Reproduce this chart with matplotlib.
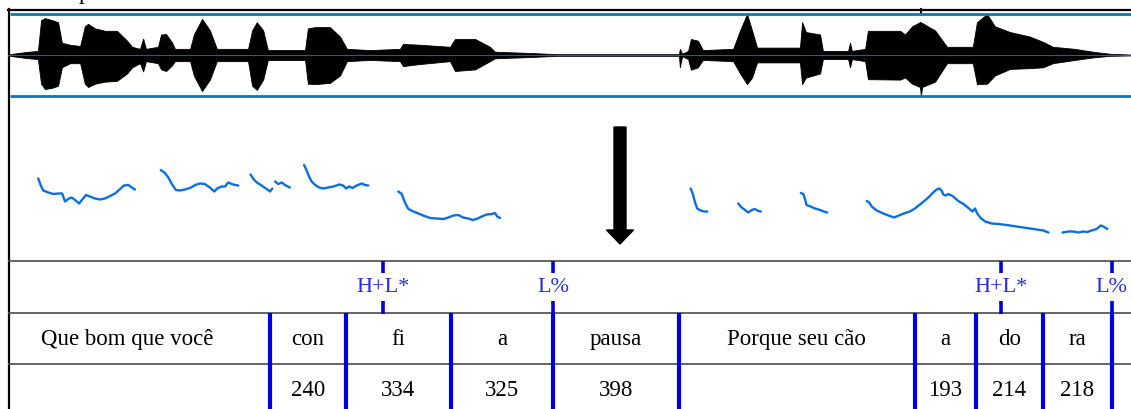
import numpy as np
import matplotlib.pyplot as plt
import matplotlib.patches as mpatches

plt.rcParams['font.family'] = ['Liberation Serif', 'DejaVu Serif']

# waveform amplitude envelope: time (ms), upper and lower peak (full scale = 1)
wave_ms = [6, 54, 95, 105, 117, 140, 159, 171, 197, 229, 244, 254, 276, 308, 346, 378, 394,
           419, 429, 438, 476, 486, 502, 521, 530, 578, 590, 616, 641, 663, 762, 775, 790,
           810, 825, 943, 952, 975, 1022, 1054, 1076, 1149, 1244, 1254, 1308, 1403, 1419,
           1483, 1530, 1546, 1657, 1743, 2130, 2133, 2140, 2159, 2168, 2190, 2206, 2302,
           2324, 2346, 2362, 2378, 2514, 2521, 2533, 2578, 2587, 2667, 2673, 2679, 2721,
           2730, 2832, 2848, 2870, 2895, 2898, 2902, 2943, 2981, 3063, 3076, 3108, 3133,
           3181, 3244, 3286, 3317, 3387, 3444, 3498, 3565]
wave_hi = [.02, .07, .10, .85, .90, .85, .80, .30, .25, .22, .70, .76, .65, .59, .59, .35, .20,
           .15, .40, .15, .20, .50, .51, .30, .15, .15, .50, .88, .60, .15, .15, .60, .80,
           .60, .12, .12, .65, .68, .68, .45, .15, .12, .15, .27, .25, .20, .39,
           .39, .20, .08, .05, .02, .02, .15, .03, .10, .39, .35, .12, .15,
           .60, 1.0, .60, .18, .18, .80, .56, .50, .10, .10, .30, .10, .15,
           .59, .59, .50, .70, .80, .80, .78, .60, .20, .20, .80, 1.0, .70,
           .56, .45, .32, .20, .15, .08, .03, .01]
wave_lo = [.02, .07, .10, .70, .83, .80, .75, .30, .20, .20, .70, .78, .70, .65, .63, .45, .30,
           .20, .40, .15, .20, .35, .39, .25, .15, .15, .50, .88, .60, .15, .15, .75, .85,
           .60, .12, .12, .70, .71, .68, .50, .15, .12, .15, .27, .22, .15, .39,
           .35, .15, .08, .05, .02, .02, .30, .03, .10, .36, .30, .12, .15,
           .45, .71, .55, .18, .18, .71, .55, .45, .10, .10, .30, .10, .15,
           .59, .60, .55, .70, .78, 1.0, .78, .65, .20, .20, .71, .70, .50,
           .34, .32, .30, .20, .12, .06, .02, .01]

# F0 contour, one list per voiced stretch: time (ms) and pitch (Hz)
f0_ms = [
    [96, 104, 112, 128, 144, 160, 172, 181, 191, 202, 213, 226, 237, 248, 260, 276, 292,
     308, 324, 340, 356, 368, 382, 393, 403],
    [485, 498, 509, 520, 533, 546, 562, 578, 594, 610, 625, 641, 655, 664, 678, 689, 699,
     710, 721, 731],
    [770, 779, 790, 805, 821, 832, 839],
    [848, 858, 869, 879, 895],
    [940, 948, 957, 964, 975, 988, 1001, 1017, 1033, 1052, 1064, 1073, 1083, 1094, 1107,
     1123, 1133, 1144],
    [1239, 1250, 1260, 1271, 1287, 1303, 1318, 1340, 1361, 1382, 1398, 1414, 1430, 1445,
     1461, 1475, 1488, 1504, 1520, 1536, 1546, 1553, 1562],
    [2167, 2174, 2181, 2188, 2199, 2210, 2220],
    [2318, 2329, 2340, 2350, 2361, 2371, 2379, 2390],
    [2517, 2525, 2530, 2535, 2548, 2562, 2578, 2590, 2601],
    [2726, 2734, 2742, 2758, 2779, 2795, 2813, 2832, 2848, 2863, 2879, 2895, 2911, 2925,
     2937, 2948, 2957, 2964, 2969, 2977, 2985, 2996, 3006, 3017, 3033, 3049, 3062, 3070,
     3077, 3088, 3102, 3123, 3144, 3170, 3202, 3234, 3266, 3287, 3303],
    [3348, 3366, 3382, 3398, 3414, 3426, 3440, 3456, 3469, 3477, 3490],
]
f0_hz = [
    [265, 251, 241, 237, 234, 235, 235, 219, 224, 227, 222, 215, 224, 232, 229, 225, 223,
     225, 230, 235, 244, 251, 252, 247, 243],
    [282, 276, 267, 254, 242, 241, 243, 246, 252, 255, 254, 247, 239, 245, 249, 249, 257,
     254, 252, 251],
    [273, 264, 257, 251, 244, 239, 245],
    [259, 254, 257, 252, 247],
    [292, 281, 267, 259, 252, 247, 245, 247, 249, 253, 251, 245, 249, 246, 251, 255, 252, 251],
    [239, 234, 217, 204, 199, 195, 191, 186, 185, 184, 187, 191, 192, 187, 185, 182, 184,
     189, 193, 194, 196, 189, 186],
    [245, 234, 217, 205, 201, 199, 199],
    [215, 207, 202, 197, 202, 204, 201, 199],
    [236, 234, 224, 212, 209, 205, 202, 199, 197],
    [220, 217, 209, 201, 195, 191, 187, 192, 196, 199, 205, 213, 221, 229, 237, 243, 245,
     241, 233, 231, 234, 231, 226, 220, 214, 206, 199, 205, 195, 186, 179, 175, 174, 172,
     169, 166, 163, 161, 157],
    [157, 159, 159, 157, 159, 158, 161, 164, 171, 169, 164],
]

# text grid
chunks = ["Que bom que você", "Porque seu cão"]
chunk1_start_ms = -76
syllables1 = ["con", "fi", "a", "pausa"]
durations1 = [240, 334, 325, 398]
start1_ms = 832
syllables2 = ["a", "do", "ra"]
durations2 = [193, 214, 218]
start2_ms = 2879
tones = ["H+L*", "L%", "H+L*", "L%"]
tone_ms = [1192, 1731, 3151, 3504]

W, H = 1131, 410
PX_PER_S = 315.0
t_lo, t_hi = -8 / PX_PER_S, (W - 8) / PX_PER_S

BOX_BLUE = '#0b78b8'
F0_BLUE = '#0a6fe0'
BOUND_BLUE = '#0000dd'
TONE_BLUE = '#2b2bdb'
GRID_GREY = '#4a4a4a'


def band(top, bottom):
    # axes rectangle spanning the full width between two pixel rows
    return [0, 1 - bottom / H, 1, (bottom - top) / H]


fig = plt.figure(figsize=(W / 100, H / 100), dpi=100)

# frame, arrow and the clipped caption letter, in pixel units
ax_bg = fig.add_axes([0, 0, 1, 1])
ax_bg.set_xlim(0, W)
ax_bg.set_ylim(H, 0)
ax_bg.axis('off')
ax_bg.plot([8.5, 8.5], [10, H], color='black', lw=1.6)
ax_bg.plot([8, W], [10.5, 10.5], color='black', lw=1.6)
ax_bg.plot([921, 921], [10, 15], color='black', lw=1.5)
ax_bg.text(84, -1, "p", fontsize=16.5, ha='center', va='baseline')
ax_bg.add_patch(mpatches.FancyArrow(620, 128, 0, 117, width=12, head_width=27,
                                    head_length=14, length_includes_head=True,
                                    color='black'))

# waveform
ax_w = fig.add_axes(band(15, 97))
ax_w.axis('off')
ax_w.set_xlim(t_lo, t_hi)
ax_w.set_ylim(-1, 1)
wt = np.array(wave_ms) / 1000
ax_w.fill_between(wt, np.array(wave_hi), -np.array(wave_lo), color='black', lw=0.6)
ax_w.plot([0, t_hi], [0, 0], color='#23607f', lw=0.8)
ax_w.hlines([-1, 1], 0.006, t_hi, colors=BOX_BLUE, lw=2.0, clip_on=False)

# pitch
ax_p = fig.add_axes(band(97, 262))
ax_p.axis('off')
ax_p.set_xlim(t_lo, t_hi)
ax_p.set_ylim(100, 430)
for ms, hz in zip(f0_ms, f0_hz):
    ax_p.plot(np.array(ms) / 1000, hz, color=F0_BLUE, lw=1.7, solid_capstyle='round')

# tiers: tones (0-1), syllables (1-2), durations (2-3)
ax_t = fig.add_axes(band(262, 416.5))
ax_t.axis('off')
ax_t.set_xlim(t_lo, t_hi)
ax_t.set_ylim(3, 0)
ax_t.hlines([0, 1, 2], 0, t_hi, colors=GRID_GREY, lw=1.2, clip_on=False)

b1 = start1_ms + np.concatenate([[0], np.cumsum(durations1)])
b2 = start2_ms + np.concatenate([[0], np.cumsum(durations2)])
ax_t.vlines(np.concatenate([b1, b2]) / 1000, 1, 3, colors=BOUND_BLUE, lw=3)

for t, lab in zip(tone_ms, tones):
    ax_t.vlines(t / 1000, 0, 0.23, colors=BOUND_BLUE, lw=2.6)
    ax_t.vlines(t / 1000, 0.78, 1.03, colors=BOUND_BLUE, lw=2.6)
    ax_t.text(t / 1000, 0.5, lab, color=TONE_BLUE, fontsize=16, ha='center', va='center')

chunk_mids = [(chunk1_start_ms + start1_ms) / 2, (b1[-1] + start2_ms) / 2]
for m, lab in zip(chunk_mids, chunks):
    ax_t.text(m / 1000, 1.5, lab, fontsize=16.5, ha='center', va='center')

for bounds, sylls, durs in [(b1, syllables1, durations1), (b2, syllables2, durations2)]:
    mids = (bounds[:-1] + bounds[1:]) / 2000
    for m, s, d in zip(mids, sylls, durs):
        ax_t.text(m, 1.5, s, fontsize=16.5, ha='center', va='center')
        ax_t.text(m, 2.5, str(d), fontsize=16.5, ha='center', va='center')

fig.savefig('out.png', dpi=100)
